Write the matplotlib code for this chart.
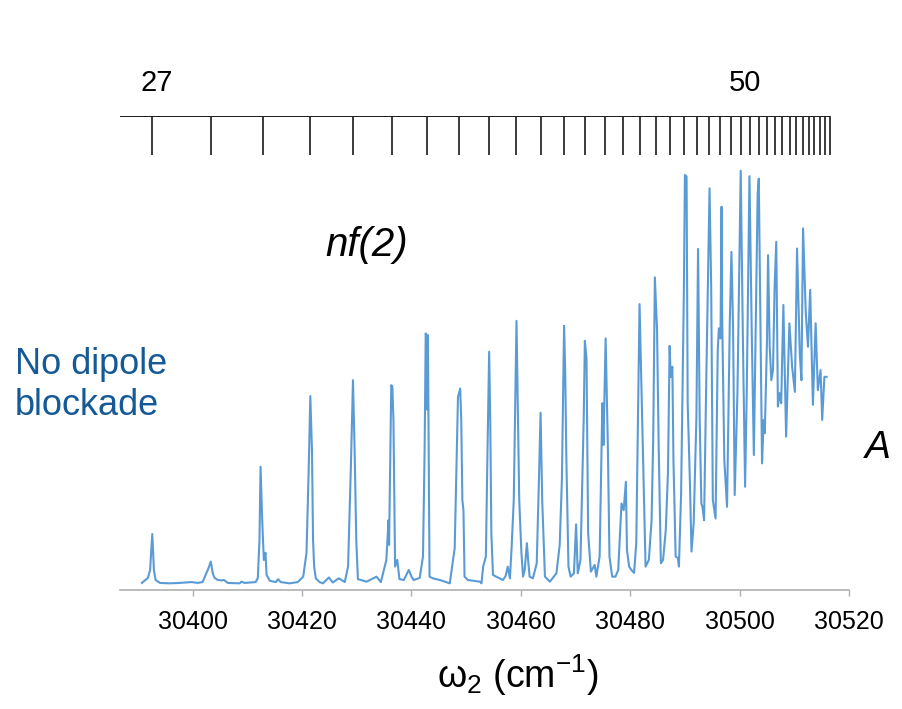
import matplotlib
matplotlib.use("Agg")
import matplotlib.pyplot as plt

plt.rcParams['font.family'] = ['Liberation Sans', 'DejaVu Sans']
plt.rcParams['mathtext.fontset'] = 'custom'
plt.rcParams['mathtext.rm'] = 'Liberation Sans'

# spectrum: two-photon frequency (cm-1) and signal (arb. units)
omega = [30390.7, 30391.8, 30392.2, 30392.6, 30392.9, 30393.2, 30394.0, 30395.8, 30397.6, 30399.8,
         30400.9, 30401.8, 30402.5, 30402.9, 30403.3, 30403.7, 30404.0, 30404.6, 30405.3, 30405.7,
         30406.4, 30408.6, 30408.9, 30409.5, 30411.5, 30411.9, 30412.2, 30412.4, 30412.7, 30413.0,
         30413.3, 30413.5, 30414.1, 30415.2, 30415.6, 30416.1, 30417.7, 30419.2, 30419.9, 30420.2,
         30420.8, 30421.2, 30421.5, 30421.8, 30422.0, 30422.2, 30422.5, 30423.2, 30423.8, 30424.9,
         30425.6, 30426.7, 30427.8, 30428.4, 30428.9, 30429.3, 30429.6, 30429.9, 30430.2, 30431.8,
         30433.6, 30434.4, 30435.4, 30435.8, 30435.9, 30436.3, 30436.5, 30436.7, 30437.0, 30437.4,
         30437.8, 30438.6, 30439.5, 30440.0, 30440.4, 30441.5, 30442.1, 30442.4, 30442.6, 30442.8,
         30442.9, 30443.0, 30443.1, 30443.3, 30443.9, 30445.2, 30447.0, 30447.9, 30448.5, 30448.9,
         30449.1, 30449.3, 30449.5, 30449.7, 30450.3, 30452.5, 30452.8, 30453.1, 30453.6, 30453.9,
         30454.2, 30454.4, 30454.6, 30454.9, 30455.5, 30456.7, 30457.2, 30457.6, 30458.0, 30458.3,
         30458.7, 30459.2, 30459.4, 30459.7, 30460.1, 30460.4, 30460.7, 30461.1, 30461.4, 30461.6,
         30462.2, 30462.9, 30463.3, 30463.6, 30463.9, 30464.4, 30465.3, 30466.5, 30467.1, 30467.5,
         30467.9, 30468.1, 30468.3, 30468.7, 30469.1, 30469.7, 30470.1, 30470.4, 30470.9, 30471.5,
         30471.7, 30472.0, 30472.1, 30472.3, 30472.8, 30473.5, 30473.8, 30474.4, 30474.9, 30475.1,
         30475.5, 30475.9, 30476.2, 30476.7, 30477.3, 30477.8, 30478.4, 30478.8, 30479.2, 30479.4,
         30479.8, 30480.2, 30480.7, 30481.1, 30481.7, 30482.0, 30482.5, 30482.8, 30483.4, 30483.9,
         30484.2, 30484.5, 30484.9, 30485.2, 30485.6, 30486.0, 30486.5, 30486.9, 30487.2, 30487.4,
         30487.7, 30487.9, 30488.3, 30488.7, 30488.9, 30489.3, 30489.8, 30490.0, 30490.3, 30490.5,
         30490.9, 30491.2, 30491.6, 30492.1, 30492.4, 30492.7, 30493.0, 30493.2, 30493.5, 30493.9,
         30494.5, 30494.8, 30495.1, 30495.6, 30496.0, 30496.2, 30496.5, 30496.7, 30496.8, 30497.2,
         30497.7, 30498.2, 30498.5, 30498.8, 30499.1, 30499.6, 30500.2, 30500.6, 30501.0, 30501.3,
         30501.8, 30502.2, 30502.6, 30503.3, 30503.5, 30503.8, 30504.1, 30504.4, 30504.6, 30505.0,
         30505.2, 30505.5, 30505.8, 30506.1, 30506.4, 30506.7, 30507.0, 30507.3, 30507.6, 30508.0,
         30508.5, 30509.1, 30509.6, 30510.1, 30510.5, 30511.0, 30511.3, 30511.6, 30512.1, 30512.5,
         30512.9, 30513.4, 30513.9, 30514.3, 30514.8, 30515.1, 30515.5, 30515.9]

signal = [1.7, 2.9, 4.8, 13.4, 4.8, 2.4, 1.7, 1.6, 1.7, 1.9,
          1.7, 1.9, 4.1, 5.3, 6.8, 3.8, 2.9, 2.4, 2.3, 2.4,
          1.7, 1.6, 2.0, 1.7, 1.9, 2.9, 12.0, 29.5, 16.7, 7.2,
          8.9, 3.6, 2.2, 1.9, 2.6, 1.9, 1.6, 1.9, 2.8, 3.2,
          8.9, 28.7, 46.4, 33.5, 12.0, 5.6, 2.8, 1.9, 1.6, 3.0,
          1.8, 2.8, 1.9, 5.6, 28.7, 50.2, 33.5, 12.0, 2.6, 2.0,
          3.2, 1.9, 7.2, 16.7, 10.8, 49.0, 48.6, 40.7, 5.6, 7.2,
          2.6, 2.4, 4.8, 3.2, 2.4, 2.9, 8.0, 33.5, 61.4, 59.8,
          43.1, 61.0, 40.7, 3.2, 2.8, 2.4, 1.6, 10.0, 46.2, 48.2,
          40.7, 21.5, 19.1, 3.2, 2.4, 2.0, 1.6, 5.6, 8.0, 33.5,
          57.0, 40.7, 13.6, 3.6, 3.2, 2.4, 3.3, 5.6, 2.8, 10.0,
          21.5, 64.4, 47.8, 21.5, 8.9, 3.2, 4.8, 11.2, 6.0, 3.2,
          2.8, 6.4, 26.3, 42.4, 21.5, 3.2, 2.0, 4.0, 10.8, 26.3,
          63.2, 52.6, 32.7, 5.6, 3.2, 4.0, 15.7, 4.0, 7.2, 41.5,
          59.6, 55.5, 41.5, 13.6, 4.4, 6.0, 3.2, 8.0, 44.7, 34.7,
          60.2, 34.7, 8.0, 3.2, 3.2, 4.8, 20.7, 19.1, 25.9, 9.6,
          5.6, 4.8, 4.1, 11.2, 68.4, 51.0, 23.1, 5.6, 7.2, 16.7,
          36.3, 74.8, 62.2, 34.3, 6.4, 7.2, 14.4, 28.3, 58.4, 51.0,
          53.4, 31.1, 8.0, 7.7, 5.6, 23.1, 71.0, 99.3, 98.9, 44.7,
          26.3, 9.2, 16.0, 41.5, 81.6, 40.7, 20.7, 19.9, 16.7, 50.2,
          96.1, 72.6, 21.5, 17.1, 57.4, 62.6, 60.2, 91.7, 66.2, 31.1,
          19.9, 63.8, 80.9, 63.0, 22.7, 47.1, 100.3, 59.8, 24.7, 47.1,
          99.0, 63.0, 32.3, 94.9, 98.4, 64.6, 30.3, 40.7, 37.5, 59.4,
          80.1, 58.2, 50.2, 52.6, 72.6, 83.3, 43.9, 47.1, 44.7, 68.2,
          36.7, 63.8, 53.4, 47.4, 81.7, 56.6, 50.2, 86.5, 66.2, 58.2,
          71.8, 44.3, 63.8, 47.8, 52.6, 40.7, 51.0, 51.0]

# nf(2) Rydberg series positions for n = 27 ... 63 (top scale)
n_values = list(range(27, 64))
n_positions = [30392.60, 30403.27, 30412.86, 30421.50, 30429.32, 30436.41, 30442.87, 30448.76,
               30454.15, 30459.10, 30463.66, 30467.85, 30471.73, 30475.32, 30478.65, 30481.74,
               30484.62, 30487.31, 30489.82, 30492.16, 30494.36, 30496.42, 30498.36, 30500.18,
               30501.89, 30503.51, 30505.04, 30506.48, 30507.84, 30509.13, 30510.36, 30511.52,
               30512.62, 30513.67, 30514.66, 30515.61, 30516.51]
n_labels = [27, 50]

x_ticks = [30400, 30420, 30440, 30460, 30480, 30500, 30520]
x_min, x_max = 30386.7, 30520

fig = plt.figure(figsize=(9.03, 7.09), dpi=100)

# main spectrum
ax = fig.add_axes([0.1329, 0.1678, 0.8073, 0.5896])
ax.plot(omega, signal, color='#5b9bd5', lw=1.5, clip_on=False)
ax.set_xlim(x_min, x_max)
ax.set_ylim(0, 100)
for side in ['top', 'right', 'left']:
    ax.spines[side].set_visible(False)
ax.spines['bottom'].set_color('#b0b0b0')
ax.spines['bottom'].set_linewidth(1.2)
ax.set_yticks([])
ax.set_xticks(x_ticks)
ax.set_xticklabels([str(t) for t in x_ticks])
ax.tick_params(axis='x', direction='out', length=4.5, width=1.0, color='#b0b0b0',
               labelsize=18, pad=10)
fig.text(0.573, 0.048, r'ω$_\mathregular{2}$ (cm$^\mathregular{-1}$)', fontsize=27,
         ha='center', va='center')

# top scale with principal quantum numbers
ax_top = fig.add_axes([0.1329, 0.7814, 0.8073, 0.0554])
ax_top.set_xlim(x_min, x_max)
ax_top.set_ylim(0, 1)
ax_top.axis('off')
ax_top.vlines(n_positions, 0, 1, color='#1a1a1a', lw=1.2)
ax_top.hlines(1, x_min, n_positions[-1], color='#1a1a1a', lw=1.4)
for n in n_labels:
    ax_top.text(n_positions[n_values.index(n)] + 0.8, 1.84, str(n), fontsize=21,
                ha='center', va='center')

fig.text(0.4064, 0.6544, 'nf(2)', fontsize=29, style='italic', ha='center', va='center')
fig.text(0.0166, 0.457, 'No dipole\nblockade', fontsize=26, color='#155a96',
         ha='left', va='center', linespacing=1.2)
fig.text(0.958, 0.354, 'A', fontsize=28, style='italic', ha='left', va='baseline')

fig.savefig('out.png', dpi=100)
